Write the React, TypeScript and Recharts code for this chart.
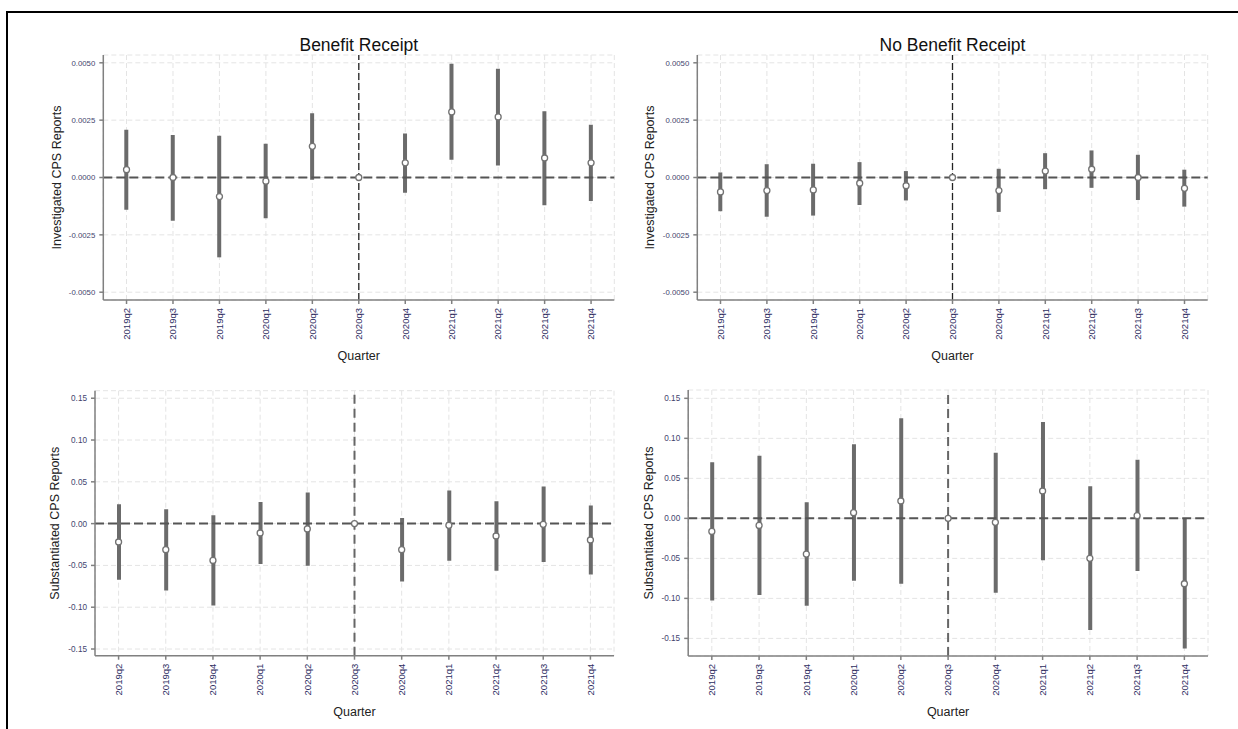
import React from "react";
import {
  ComposedChart,
  Bar,
  Line,
  XAxis,
  YAxis,
  CartesianGrid,
  ReferenceLine,
  Label,
} from "recharts";

// event-time quarters, 2020q3 is the omitted reference period
const quarters = [
  "2019q2", "2019q3", "2019q4", "2020q1", "2020q2", "2020q3",
  "2020q4", "2021q1", "2021q2", "2021q3", "2021q4",
];

// Investigated CPS reports, benefit receipt
const invBenEst = [0.00034, 0.0, -0.00083, -0.00016, 0.00136, 0, 0.00064, 0.00286, 0.00264, 0.00085, 0.00064];
const invBenLo = [-0.00141, -0.00188, -0.00348, -0.00178, -0.0001, null, -0.00066, 0.00077, 0.00052, -0.00121, -0.00102];
const invBenHi = [0.00208, 0.00185, 0.00182, 0.00147, 0.0028, null, 0.00192, 0.00496, 0.00474, 0.00289, 0.0023];

// Investigated CPS reports, no benefit receipt
const invNoEst = [-0.00063, -0.00057, -0.00054, -0.00025, -0.00036, 0, -0.00057, 0.00028, 0.00036, 0.0, -0.00047];
const invNoLo = [-0.00147, -0.00171, -0.00166, -0.0012, -0.001, null, -0.0015, -0.00051, -0.00045, -0.00098, -0.00127];
const invNoHi = [0.00022, 0.00058, 0.0006, 0.00067, 0.00028, null, 0.00038, 0.00106, 0.00118, 0.00099, 0.00034];

// Substantiated CPS reports, benefit receipt
const subBenEst = [-0.022, -0.0312, -0.044, -0.0112, -0.0064, 0, -0.0312, -0.002, -0.0148, -0.0008, -0.0196];
const subBenLo = [-0.0672, -0.08, -0.098, -0.0484, -0.0504, null, -0.0692, -0.0444, -0.0564, -0.046, -0.0608];
const subBenHi = [0.0232, 0.0172, 0.01, 0.026, 0.0372, null, 0.0068, 0.0396, 0.0268, 0.0444, 0.0216];

// Substantiated CPS reports, no benefit receipt
const subNoEst = [-0.0163, -0.0088, -0.0446, 0.0071, 0.0217, 0, -0.005, 0.0342, -0.05, 0.0033, -0.0817];
const subNoLo = [-0.1025, -0.0958, -0.1092, -0.0779, -0.0817, null, -0.0929, -0.0525, -0.1396, -0.0658, -0.1625];
const subNoHi = [0.07, 0.0783, 0.02, 0.0925, 0.125, null, 0.0821, 0.1204, 0.04, 0.0733, 0.0];

const invTicks = [-0.005, -0.0025, 0, 0.0025, 0.005];
const subTicks = [-0.15, -0.1, -0.05, 0, 0.05, 0.1, 0.15];

const buildRows = (est: number[], lo: (number | null)[], hi: (number | null)[]) =>
  quarters.map((q, i) => ({
    quarter: q,
    est: est[i],
    ci: lo[i] == null || hi[i] == null ? null : [lo[i], hi[i]],
  }));

const QuarterTick = (props: any) => {
  const { x, y, payload } = props;
  return (
    <text
      x={x}
      y={y}
      dy="0.35em"
      transform={`rotate(-90 ${x} ${y})`}
      textAnchor="end"
      fontSize={9.5}
      fill="#2d2d5f"
    >
      {payload.value}
    </text>
  );
};

type PanelProps = {
  left: number;
  top: number;
  width: number;
  height: number;
  margin: { top: number; right: number };
  yAxisWidth: number;
  xAxisHeight: number;
  rows: any[];
  domain: [number, number];
  ticks: number[];
  digits: number;
  tickFont: number;
  yLabel: string;
  yLabelOffset: number;
  xLabelOffset: number;
  vlineColor: string;
  vlineWidth: number;
  vlineDash: string;
  title?: string;
};

const Panel = (p: PanelProps) => (
  <div style={{ position: "absolute", left: p.left, top: p.top }}>
    {p.title && (
      <div
        style={{
          position: "absolute",
          left: p.yAxisWidth,
          width: p.width - p.yAxisWidth - p.margin.right,
          top: p.margin.top - 20,
          textAlign: "center",
          fontSize: 17.5,
          lineHeight: "20px",
          color: "#111",
          whiteSpace: "nowrap",
        }}
      >
        {p.title}
      </div>
    )}
    <ComposedChart
      width={p.width}
      height={p.height}
      data={p.rows}
      margin={{ top: p.margin.top, right: p.margin.right, bottom: 0, left: 0 }}
      barCategoryGap="0%"
    >
      <CartesianGrid stroke="#e4e4e4" strokeDasharray="5 3" strokeWidth={1} />
      <XAxis
        dataKey="quarter"
        interval={0}
        height={p.xAxisHeight}
        tickSize={4}
        tickMargin={4}
        stroke="#808080"
        strokeWidth={1.5}
        tick={<QuarterTick />}
      >
        <Label
          value="Quarter"
          position="insideBottom"
          offset={p.xLabelOffset}
          style={{ fontSize: 12.5, fill: "#222" }}
        />
      </XAxis>
      <YAxis
        type="number"
        domain={p.domain}
        ticks={p.ticks}
        allowDataOverflow
        width={p.yAxisWidth}
        tickSize={4}
        tickMargin={4}
        stroke="#808080"
        strokeWidth={1.5}
        tick={{ fontSize: p.tickFont, fill: "#44446e" }}
        tickFormatter={(v: number) => v.toFixed(p.digits)}
      >
        <Label
          value={p.yLabel}
          angle={-90}
          position="insideLeft"
          offset={p.yLabelOffset}
          style={{ textAnchor: "middle", fontSize: 12.5, fill: "#222" }}
        />
      </YAxis>
      <ReferenceLine y={0} stroke="#555" strokeWidth={2} strokeDasharray="9 4" />
      <ReferenceLine
        x="2020q3"
        stroke={p.vlineColor}
        strokeWidth={p.vlineWidth}
        strokeDasharray={p.vlineDash}
      />
      <Bar dataKey="ci" barSize={4} fill="#6b6b6b" isAnimationActive={false} />
      <Line
        dataKey="est"
        stroke="none"
        dot={{ r: 3, fill: "#fff", stroke: "#737373", strokeWidth: 1.3 }}
        activeDot={false}
        isAnimationActive={false}
      />
    </ComposedChart>
  </div>
);

export default function App() {
  return (
    <div
      style={{
        position: "relative",
        width: 1238,
        height: 729,
        overflow: "hidden",
        background: "#fff",
        fontFamily: "'Liberation Sans', Arial, sans-serif",
      }}
    >
      <style>{"body{margin:0}"}</style>
      {/* figure frame */}
      <div
        style={{
          position: "absolute",
          left: 6,
          top: 11,
          width: 1300,
          height: 800,
          border: "2px solid #000",
        }}
      />
      <Panel
        left={0}
        top={0}
        width={620}
        height={365}
        margin={{ top: 55, right: 5.7 }}
        yAxisWidth={103.3}
        xAxisHeight={65}
        rows={buildRows(invBenEst, invBenLo, invBenHi)}
        domain={[-0.00534, 0.00534]}
        ticks={invTicks}
        digits={4}
        tickFont={7.8}
        yLabel="Investigated CPS Reports"
        yLabelOffset={57}
        xLabelOffset={5}
        vlineColor="#222"
        vlineWidth={1.3}
        vlineDash="7 3"
        title="Benefit Receipt"
      />
      <Panel
        left={620}
        top={0}
        width={618}
        height={365}
        margin={{ top: 55, right: 30.3 }}
        yAxisWidth={77.3}
        xAxisHeight={65}
        rows={buildRows(invNoEst, invNoLo, invNoHi)}
        domain={[-0.00534, 0.00534]}
        ticks={invTicks}
        digits={4}
        tickFont={7.8}
        yLabel="Investigated CPS Reports"
        yLabelOffset={30}
        xLabelOffset={5}
        vlineColor="#222"
        vlineWidth={1.3}
        vlineDash="7 3"
        title="No Benefit Receipt"
      />
      <Panel
        left={0}
        top={365}
        width={620}
        height={364}
        margin={{ top: 25.7, right: 6 }}
        yAxisWidth={95}
        xAxisHeight={73.3}
        rows={buildRows(subBenEst, subBenLo, subBenHi)}
        domain={[-0.158, 0.159]}
        ticks={subTicks}
        digits={2}
        tickFont={8.2}
        yLabel="Substantiated CPS Reports"
        yLabelOffset={55}
        xLabelOffset={13}
        vlineColor="#666"
        vlineWidth={2}
        vlineDash="9 5"
      />
      <Panel
        left={620}
        top={365}
        width={618}
        height={364}
        margin={{ top: 25, right: 30 }}
        yAxisWidth={68.2}
        xAxisHeight={73}
        rows={buildRows(subNoEst, subNoLo, subNoHi)}
        domain={[-0.172, 0.1604]}
        ticks={subTicks}
        digits={2}
        tickFont={8.2}
        yLabel="Substantiated CPS Reports"
        yLabelOffset={29}
        xLabelOffset={13}
        vlineColor="#666"
        vlineWidth={2}
        vlineDash="9 5"
      />
    </div>
  );
}
